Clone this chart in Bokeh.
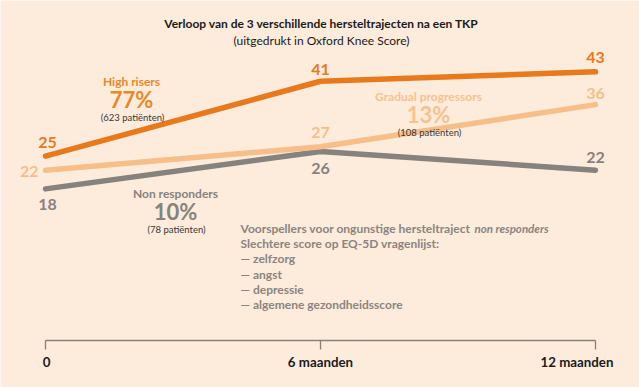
from bokeh.plotting import figure
from bokeh.models import Range1d, LinearAxis, FixedTicker
from bokeh.core.properties import value
from bokeh.embed import file_html
from bokeh.resources import INLINE

# ---- data ----
months = [0, 6, 12]
tick_labels = ["0", "6 maanden", "12 maanden"]
high_risers = [25, 41, 43]
gradual_progressors = [22, 27, 36]
non_responders = [18, 26, 22]

series_names = ["High risers", "Gradual progressors", "Non responders"]
series_pct = ["77%", "13%", "10%"]
series_n = ["(623 patiënten)", "(108 patiënten)", "(78 patiënten)"]

title = "Verloop van de 3 verschillende hersteltrajecten na een TKP"
subtitle = "(uitgedrukt in Oxford Knee Score)"
pred_head = "Voorspellers voor ongunstige hersteltraject "
pred_head_it = "non responders"
pred_lines = ["Slechtere score op EQ-5D vragenlijst:",
              "— zelfzorg", "— angst", "— depressie",
              "— algemene gezondheidsscore"]

# ---- style ----
BG = "#fdecdc"
DARK = "#e8791c"
LIGHT = "#f6bf8a"
GREY = "#86827e"
FONT = "Lato"

W, H = 639, 387
X0, X1 = -0.982, 12.961
Y0, Y1 = -24.44, 58.25
AXIS_Y = -14.4


def px(xp, yp):
    """page pixel -> data coords (for annotation placement)"""
    x = X0 + xp / W * (X1 - X0)
    y = Y1 - yp / H * (Y1 - Y0)
    return x, y


p = figure(width=W, height=H, output_backend="svg", toolbar_location=None,
           x_range=Range1d(X0, X1), y_range=Range1d(Y0, Y1),
           min_border=0, x_axis_location=None, y_axis_location=None)
p.background_fill_color = BG
p.border_fill_color = BG
p.outline_line_color = None
p.grid.visible = False

# axis
ax = LinearAxis(ticker=FixedTicker(ticks=months), fixed_location=AXIS_Y,
                bounds=(months[0], months[-1]))
ax.axis_line_color = "#8a7f75"
ax.axis_line_width = 1.3
ax.major_tick_line_color = "#8a7f75"
ax.major_tick_line_width = 1.3
ax.major_tick_in = 0
ax.major_tick_out = 9
ax.minor_tick_line_color = None
ax.major_label_text_font_size = "0px"
ax.major_label_text_alpha = 0
p.add_layout(ax, "below")

p.text(x=months, y=[AXIS_Y] * 3, text=tick_labels,
       x_offset=[1, 0, 18], y_offset=[21, 21, 21],
       text_align=["center", "center", "right"], text_baseline="middle",
       text_font=value(FONT), text_font_style="bold",
       text_font_size="13.3px", text_color="#1a1a1a")

# lines
series = [
    (high_risers, DARK, [2, 0, 0], [-14, -12, -14], ["center"] * 3),
    (gradual_progressors, LIGHT, [-7, 0, 0], [1, -14, -11], ["right", "center", "center"]),
    (non_responders, GREY, [2, 0, 0], [16, 17, -13], ["center"] * 3),
]
for vals, col, xo, yo, al in series[::-1]:
    p.line(months, vals, line_color=col, line_width=5.5, line_cap="round",
           line_join="round")
for vals, col, xo, yo, al in series:
    p.text(x=months, y=vals, text=[str(v) for v in vals],
           x_offset=xo, y_offset=yo, text_align=al, text_baseline="middle",
           text_font=value(FONT), text_font_style="bold",
           text_font_size="16px", text_color=col)

# group labels
name_cols = ["#e9872a", "#f6c291", GREY]
centers = [(131, 81), (428, 96), (175, 193)]
for i, (cx, cy) in enumerate(centers):
    x, y = px(cx, cy)
    p.text(x=[x], y=[y], text=[series_names[i]], text_align="center",
           text_baseline="middle", text_font=value(FONT),
           text_font_style="bold", text_font_size="12px",
           text_color=name_cols[i])
    x, y = px(cx, cy + 18)
    p.text(x=[x], y=[y], text=[series_pct[i]], text_align="center",
           text_baseline="middle", text_font=value(FONT),
           text_font_style="bold", text_font_size="22px",
           text_color=name_cols[i])
    x, y = px(cx + 1, cy + 36)
    p.text(x=[x], y=[y], text=[series_n[i]], text_align="center",
           text_baseline="middle", text_font=value(FONT),
           text_font_size="9.5px", text_color="#3a3530")

# title
x, y = px(321, 23)
p.text(x=[x], y=[y], text=[title], text_align="center", text_baseline="middle",
       text_font=value(FONT), text_font_style="bold", text_font_size="12px",
       text_color="#1a1a1a")
x, y = px(321, 40)
p.text(x=[x], y=[y], text=[subtitle], text_align="center", text_baseline="middle",
       text_font=value(FONT), text_font_size="12px", text_color="#1a1a1a")

# predictors block
x, y = px(240, 228)
p.text(x=[x], y=[y], text=[pred_head], text_align="left", text_baseline="middle",
       text_font=value(FONT), text_font_style="bold", text_font_size="12px",
       text_color="#8a8480")
x, y = px(474, 228)
p.text(x=[x], y=[y], text=[pred_head_it], text_align="left", text_baseline="middle",
       text_font=value(FONT), text_font_style="bold italic", text_font_size="11.5px",
       text_color="#8a8480")
for i, t in enumerate(pred_lines):
    x, y = px(240, 243.2 + i * 15.2)
    p.text(x=[x], y=[y], text=[t], text_align="left", text_baseline="middle",
           text_font=value(FONT), text_font_style="bold", text_font_size="12px",
           text_color="#8a8480")

html = file_html(p, INLINE)
html = html.replace("<body>", '<body style="background:%s">' % BG, 1)
open("out.html", "w").write(html)
